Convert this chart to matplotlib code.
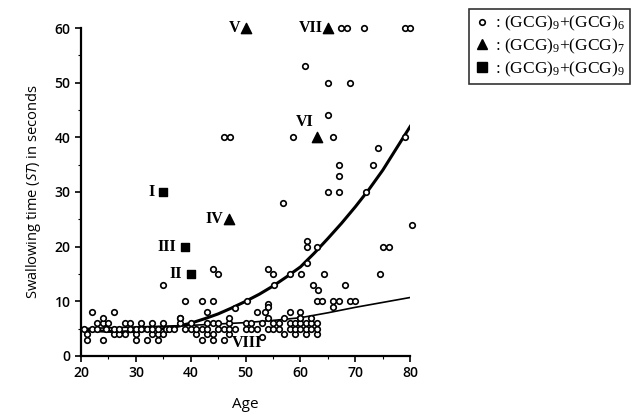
import matplotlib
matplotlib.use("Agg")
import matplotlib.pyplot as plt
from matplotlib.lines import Line2D

# (GCG)9+(GCG)6 subjects: age, swallowing time
circle_age = [
    60.9, 65, 69, 65, 58.7, 66, 46, 47.1, 74.2, 73.3, 67, 67, 79.1,
    67.3, 68.4, 71.6, 79, 80, 65, 67, 72, 56.9, 61.2, 61.2, 63, 61.2,
    44, 45, 54, 55, 35, 58.1, 60.1, 64.2, 55.2, 62.3, 63.2, 68.2, 74.4,
    75.1, 76.2, 80.4,
    39, 42, 44, 50.3, 54, 54, 63, 64, 66, 67, 69, 70, 66,
    22, 26, 43, 38, 48, 52, 53.5, 58, 60, 60,
    # lower cluster
    21, 24, 30, 32, 34, 42, 44, 46, 53,
    21, 26, 27, 28, 30, 33, 34, 35, 41, 43, 44, 47, 57, 59, 61, 63,
    20.5, 22, 23, 24.5, 26, 27, 29, 30, 31, 32, 33, 34, 35.5, 36, 37, 39,
    40, 41, 42, 43, 45, 46, 47, 48, 50, 51, 52, 54, 55, 56, 58, 59, 60,
    61, 62, 63,
    23, 24, 25, 28, 29, 31, 33, 35, 38, 40, 43, 44, 45, 47, 50, 51, 53,
    55, 56, 58, 59, 60, 61, 62, 63,
    24, 38, 47, 54, 57, 60, 62,
]
circle_st = [
    53, 50, 50, 44, 40, 40, 40, 40, 38, 35, 35, 33, 40,
    60, 60, 60, 60, 60, 30, 30, 30, 28, 21, 20, 20, 17,
    16, 15, 16, 15, 13, 15, 15, 15, 13, 13, 12, 13, 15,
    20, 20, 24,
    10, 10, 10, 10, 9.5, 9, 10, 10, 10, 10, 10, 10, 9,
    8, 8, 8, 7, 8.8, 8, 8, 8, 8, 7,
    3, 3, 3, 3, 3, 3, 3, 3, 3.5,
    4, 4, 4, 4, 4, 4, 4, 4, 4, 4, 4, 4, 4, 4, 4, 4,
    5, 5, 5, 5, 5, 5, 5, 5, 5, 5, 5, 5, 5, 5, 5, 5,
    5, 5, 5, 5, 5, 5, 5, 5, 5, 5, 5, 5, 5, 5, 5, 5, 5,
    5, 5, 5,
    6, 6, 6, 6, 6, 6, 6, 6, 6, 6, 6, 6, 6, 6, 6, 6, 6,
    6, 6, 6, 6, 6, 6, 6, 6,
    7, 7, 7, 7, 7, 7, 7,
]

# (GCG)9+(GCG)7 patients
tri_age = [50, 65, 63, 47]
tri_st = [60, 60, 40, 25]
tri_label = ["V", "VII", "VI", "IV"]

# (GCG)9+(GCG)9 patients
sq_age = [35, 39, 40]
sq_st = [30, 20, 15]
sq_label = ["I", "III", "II"]

# fitted curves
curve_age = [20, 22.5, 25, 27.5, 30, 32.5, 35, 37.5, 40, 42.5, 45, 47.5, 50,
             52.5, 55, 57.5, 60, 62.5, 65, 67.5, 70, 72.5, 75, 77.5, 80]
curve_st = [4.8, 4.6, 4.5, 4.4, 4.5, 4.7, 5.0, 5.4, 6.0, 6.8, 7.7, 8.8, 10.0,
            11.3, 12.8, 14.5, 16.3, 18.8, 21.5, 24.3, 27.3, 30.5, 34.0, 38.0, 42.0]
line_age = [20, 30, 40, 50, 55, 60, 65, 70, 75, 80]
line_st = [5.0, 5.3, 5.6, 6.1, 6.5, 7.0, 7.9, 8.9, 9.8, 10.7]

plt.rcParams['font.family'] = ['Open Sans', 'DejaVu Sans']
plt.rcParams['mathtext.fontset'] = 'custom'
plt.rcParams['mathtext.it'] = 'Open Sans:italic'
plt.rcParams['mathtext.rm'] = 'Liberation Serif'

fig = plt.figure(figsize=(6.38, 4.12), dpi=100)
ax = fig.add_axes([0.127, 0.136, 0.516, 0.796])

ax.plot(curve_age, curve_st, color='black', lw=2.2, zorder=2)
ax.plot(line_age, line_st, color='black', lw=1.2, zorder=2)

ax.scatter(circle_age, circle_st, s=16, facecolors='white', edgecolors='black',
           linewidths=1.2, zorder=3, clip_on=False)
ax.scatter(tri_age, tri_st, marker='^', s=55, color='black', zorder=3, clip_on=False)
ax.scatter(sq_age, sq_st, marker='s', s=38, color='black', zorder=3, clip_on=False)

serif = dict(family='Liberation Serif', fontweight='bold', fontsize=11.5,
             ha='right', va='center')
for a, s, lab in zip(tri_age, tri_st, tri_label):
    if lab == "VI":
        ax.text(a - 0.6, s + 2.8, lab, **serif)
    else:
        ax.text(a - 1.0, s, lab, **serif)
for a, s, lab in zip(sq_age, sq_st, sq_label):
    ax.text(a - 1.6, s, lab, **serif)
ax.text(50.3, 2.4, "VIII", family='Liberation Serif', fontweight='bold',
        fontsize=11.5, ha='center', va='center')

ax.set_xlim(20, 80)
ax.set_ylim(0, 60)
ax.set_xticks(range(20, 81, 10))
ax.set_yticks(range(0, 61, 10))
ax.set_xticks(range(20, 81, 5), minor=True)
ax.set_yticks(range(0, 61, 5), minor=True)
ax.tick_params(which='major', direction='out', length=4, width=1.2, labelsize=10)
ax.tick_params(which='minor', direction='out', length=2, width=0.8)
for lab in ax.get_xticklabels() + ax.get_yticklabels():
    lab.set_fontweight('semibold')
for side in ['top', 'right']:
    ax.spines[side].set_visible(False)
for side in ['left', 'bottom']:
    ax.spines[side].set_linewidth(1.6)

ax.set_xlabel("Age", fontsize=11, labelpad=12)
ax.set_ylabel(r"Swallowing time ($\mathit{ST}$) in seconds", fontsize=10.5, labelpad=8)

handles = [
    Line2D([], [], marker='o', ls='none', markerfacecolor='white',
           markeredgecolor='black', markersize=4, markeredgewidth=1.2),
    Line2D([], [], marker='^', ls='none', color='black', markersize=7.5),
    Line2D([], [], marker='s', ls='none', color='black', markersize=6.5),
]
labels = [r": (GCG)$_9$+(GCG)$_6$", r": (GCG)$_9$+(GCG)$_7$", r": (GCG)$_9$+(GCG)$_9$"]
leg = fig.legend(handles, labels, loc='upper left', bbox_to_anchor=(0.735, 0.978),
                 frameon=True, fancybox=False, edgecolor='black', handlelength=0.9,
                 handletextpad=0.3, borderpad=0.3, labelspacing=0.2,
                 borderaxespad=0, prop={'family': 'Liberation Serif', 'size': 12.5})
leg.get_frame().set_linewidth(1.2)

fig.savefig("out.png", dpi=100)
